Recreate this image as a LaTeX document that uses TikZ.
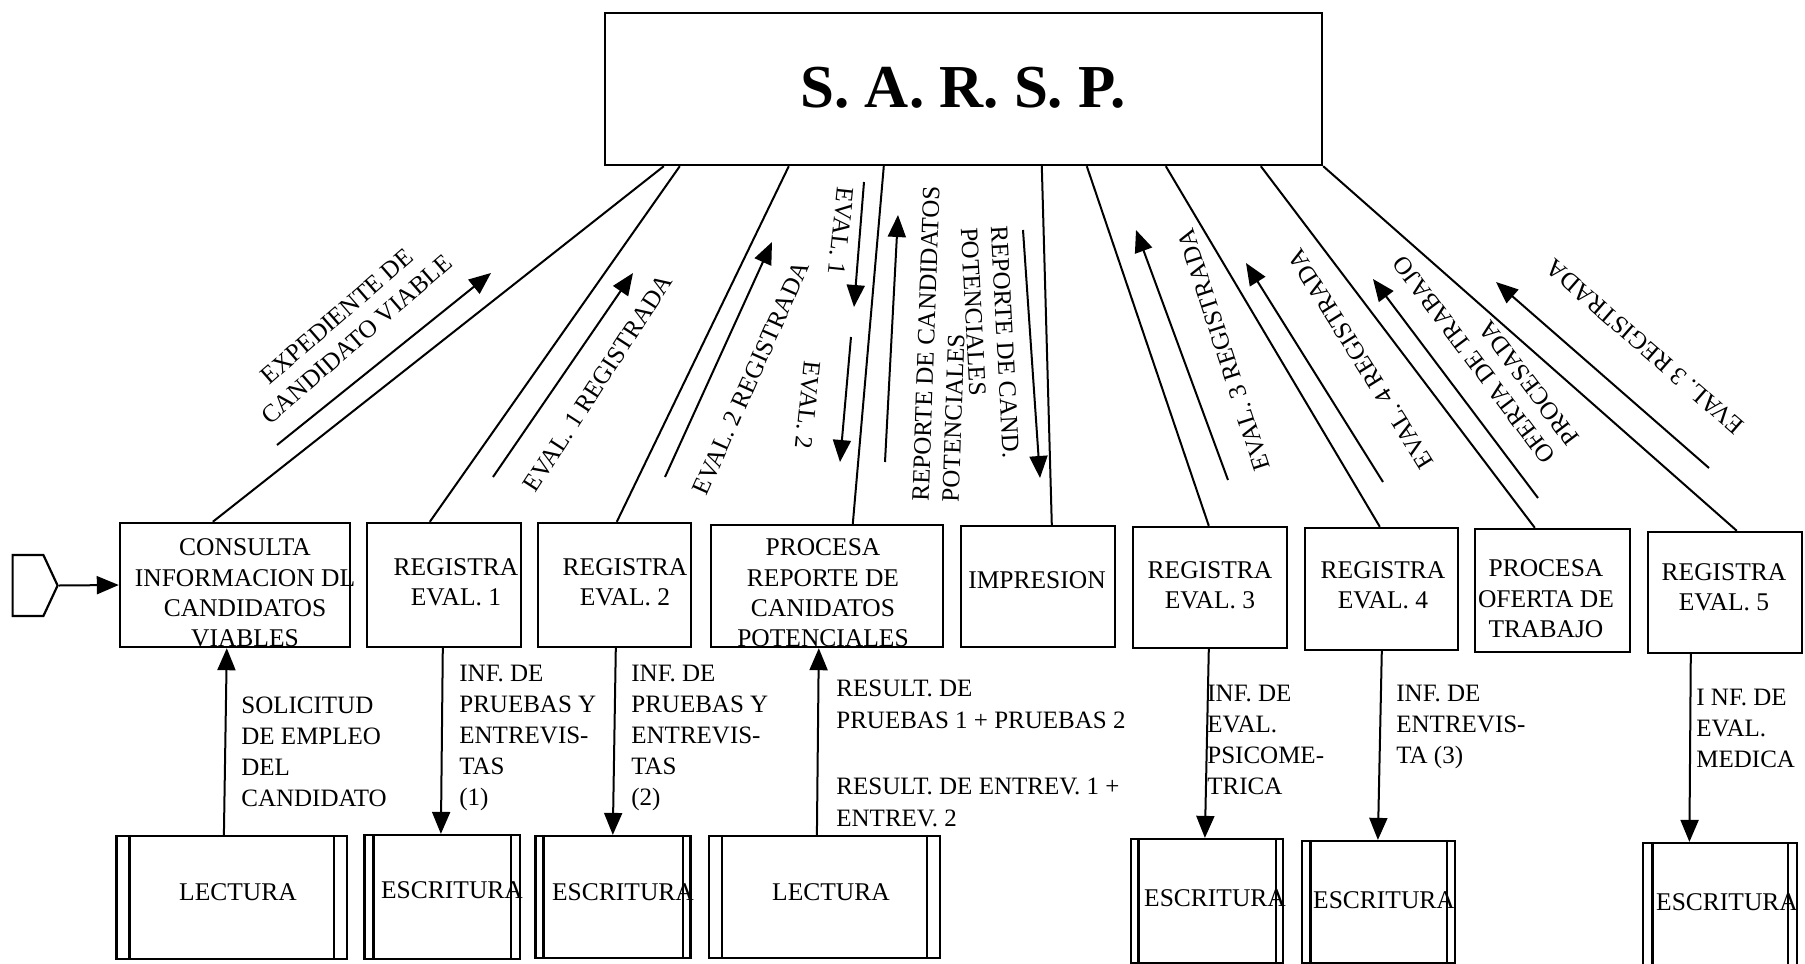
\documentclass[tikz,border=0pt]{standalone}
\usepackage{fontspec}
\setmainfont{Liberation Serif}
\usetikzlibrary{arrows.meta,calc,shapes.symbols}
\tikzset{
  every node/.style={inner sep=0pt},
  wh/.style 2 args={minimum width=#1*0.5pt,minimum height=#2*0.5pt},
  procbox/.style={draw,line width=1.2pt,rectangle},
  storebox/.style={draw,line width=1.1pt,rectangle},
  storeline/.style={line width=1.1pt},
  link/.style={line width=1pt},
  arr/.style={line width=1pt,-{Triangle[length=11pt,width=9pt]}},
  boxtxt/.style={font=\fontsize{12.75}{15.2}\selectfont,align=center},
  lbl/.style={font=\fontsize{12.5}{15}\selectfont,align=center},
  note/.style={font=\fontsize{12.5}{15.5}\selectfont,align=left,anchor=north west}
}
\begin{document}
\begin{tikzpicture}[x=0.5pt,y=-0.5pt]
\path[use as bounding box,fill=white] (0,0) rectangle (1805,964);

% system box
\node[procbox,wh={717}{152}] (main) at (963.5,89) {};
\node[font=\fontsize{30.5}{36}\selectfont\bfseries] (title) at (963,88) {S. A. R. S. P.};

% process row
\node[procbox,wh={230}{124}] (c1) at (235,585) {};
\node[procbox,wh={154}{124}] (r1) at (444,585) {};
\node[procbox,wh={153}{124}] (r2) at (614.5,585) {};
\node[procbox,wh={232}{122}] (p1) at (827,586) {};
\node[procbox,wh={154}{121}] (imp) at (1038,586.5) {};
\node[procbox,wh={154}{121}] (r3) at (1210,587.5) {};
\node[procbox,wh={153}{122}] (r4) at (1381.5,589) {};
\node[procbox,wh={155}{123}] (p2) at (1552.5,590.5) {};
\node[procbox,wh={154}{121}] (r5) at (1725,592.5) {};

\node[boxtxt] (c1t) at (245,593) {CONSULTA\\INFORMACION DL\\CANDIDATOS\\VIABLES};
\node[boxtxt] (r1t) at (456,582) {REGISTRA\\EVAL. 1};
\node[boxtxt] (r2t) at (625,582) {REGISTRA\\EVAL. 2};
\node[boxtxt] (p1t) at (823,593) {PROCESA\\REPORTE DE\\CANIDATOS\\POTENCIALES};
\node[boxtxt] (impt) at (1037,580) {IMPRESION};
\node[boxtxt] (r3t) at (1210,585) {REGISTRA\\EVAL. 3};
\node[boxtxt] (r4t) at (1383,585) {REGISTRA\\EVAL. 4};
\node[boxtxt] (p2t) at (1546,599) {PROCESA\\OFERTA DE\\TRABAJO};
\node[boxtxt] (r5t) at (1724,587) {REGISTRA\\EVAL. 5};

% file row
\node[storebox,wh={230.5}{123}] (L1) at (231.75,897.5) {};
\node[storebox,wh={155.5}{124}] (E1) at (442.25,897) {};
\node[storebox,wh={155}{122}] (E2) at (613,897) {};
\node[storebox,wh={231}{122}] (L2) at (824.5,897) {};
\node[storebox,wh={152}{124}] (E3) at (1207,901) {};
\node[storebox,wh={153}{122}] (E4) at (1378.5,902) {};
\node[storebox,wh={154}{132}] (E5) at (1720,909) {};
% inner side bars of the file symbols
\foreach \f/\d in {L1/14,E1/10,E2/9,L2/14,E3/8.5,E4/9.5,E5/10.5} {
  \draw[storeline] ($(\f.north west)+(\d,0)$) -- ($(\f.south west)+(\d,0)$);
  \draw[storeline] ($(\f.north east)+(-\d,0)$) -- ($(\f.south east)+(-\d,0)$);
}

\node[boxtxt] (L1t) at (238,892) {LECTURA};
\node[boxtxt] (E1t) at (452,890) {ESCRITURA};
\node[boxtxt] (E2t) at (623,892) {ESCRITURA};
\node[boxtxt] (L2t) at (831,892) {LECTURA};
\node[boxtxt] (E3t) at (1215,898) {ESCRITURA};
\node[boxtxt] (E4t) at (1384,900) {ESCRITURA};
\node[boxtxt] (E5t) at (1727,902) {ESCRITURA};

% entry connector
\node[draw,line width=1.1pt,signal,signal to=east,signal pointer angle=130,wh={45}{61}] (pent) at (28,585.5) {};
\draw[arr] (pent.east) -- (c1.west);

% links between the system and the processes
\draw[link] ($(main.south west)+(60,0)$) -- ($(c1.north west)+(94,0)$);
\draw[link] ($(main.south west)+(76,0)$) -- ($(r1.north west)+(64,0)$);
\draw[link] ($(main.south west)+(185,0)$) -- ($(r2.north west)+(80,0)$);
\draw[link] ($(main.south west)+(280,0)$) -- ($(p1.north west)+(143,0)$);
\draw[link] ($(main.south west)+(438,0)$) -- ($(imp.north west)+(92,0)$);
\draw[link] ($(main.south west)+(483,0)$) -- ($(r3.north west)+(77,0)$);
\draw[link] ($(main.south west)+(562,0)$) -- ($(r4.north west)+(76,0)$);
\draw[link] ($(main.south west)+(657,0)$) -- ($(p2.north west)+(61,0)$);
\draw[link] (main.south east) -- ($(r5.north west)+(90,0)$);

% flows between processes and files
\draw[arr] ($(L1.north west)+(108.5,0)$) -- ($(c1.south west)+(108,0)$);
\draw[arr] ($(r1.south west)+(77,0)$) -- ($(E1.north west)+(77.5,0)$);
\draw[arr] ($(r2.south west)+(79,0)$) -- ($(E2.north west)+(78.4,0)$);
\draw[arr] ($(L2.north west)+(109,0)$) -- ($(p1.south west)+(109,0)$);
\draw[arr] ($(r3.south west)+(77,0)$) -- ($(E3.north west)+(75,0)$);
\draw[arr] ($(r4.south west)+(78,0)$) -- ($(E4.north west)+(77,0)$);
\draw[arr] ($(r5.south west)+(44,0)$) -- ($(E5.north west)+(47.5,0)$);

% data flow arrows along the links
\coordinate (a1s) at (277,445);  \coordinate (a1e) at (491,273);
\coordinate (a2s) at (493,477);  \coordinate (a2e) at (633,273);
\coordinate (a3s) at (665,477);  \coordinate (a3e) at (772,242);
\coordinate (a4s) at (864,182);  \coordinate (a4e) at (854,307);
\coordinate (a5s) at (851,337);  \coordinate (a5e) at (840,462);
\coordinate (a6s) at (885,462);  \coordinate (a6e) at (898,215);
\coordinate (a7s) at (1023,230); \coordinate (a7e) at (1040,478);
\coordinate (a8s) at (1228,480); \coordinate (a8e) at (1136,230);
\coordinate (a9s) at (1383,482); \coordinate (a9e) at (1246,263);
\coordinate (a10s) at (1538,498); \coordinate (a10e) at (1373,279);
\coordinate (a11s) at (1709,468); \coordinate (a11e) at (1496,282);
\foreach \i in {1,...,11} {\draw[arr] (a\i s) -- (a\i e);}

% flow labels
\node[lbl,rotate=41] (t1) at (347,328) {EXPEDIENTE DE\\CANDIDATO VIABLE};
\node[lbl,rotate=57] (t2) at (598,383) {EVAL. 1 REGISTRADA};
\node[lbl,rotate=66] (t3) at (751,378) {EVAL. 2 REGISTRADA};
\node[lbl,rotate=-96] (t4) at (841,231) {EVAL. 1};
\node[lbl,rotate=-96] (t5) at (808,405) {EVAL. 2};
\node[lbl,rotate=88,align=left] (t6) at (941,344) {REPORTE DE CANDIDATOS\\POTENCIALES};
\node[lbl,rotate=-87,align=left] (t7) at (990,343) {REPORTE DE CAND.\\POTENCIALES};
\node[lbl,rotate=108] (t8) at (1224,350) {EVAL. 3 REGISTRADA};
\node[lbl,rotate=122] (t9) at (1361,359) {EVAL. 4 REGISTRADA};
\node[lbl,rotate=127,align=left] (t10) at (1486,351) {OFERTA DE TRABAJO\\PROCESADA};
\node[lbl,rotate=139] (t11) at (1645,347) {EVAL. 3 REGISTRADA};

% flow notes below the processes
\node[note] (n1) at (241,696.5) {SOLICITUD\\DE EMPLEO\\DEL\\CANDIDATO};
\node[note] (n2) at (459,664.5) {INF. DE\\PRUEBAS Y\\ENTREVIS-\\TAS\\(1)};
\node[note] (n3) at (631,664.5) {INF. DE\\PRUEBAS Y\\ENTREVIS-\\TAS\\(2)};
\node[note,font=\fontsize{12.5}{16}\selectfont] (n4) at (836,679.5) {RESULT. DE\\PRUEBAS 1 + PRUEBAS 2\\[17pt]RESULT. DE ENTREV. 1 +\\ENTREV. 2};
\node[note] (n5) at (1207,684.5) {INF. DE\\EVAL.\\PSICOME-\\TRICA};
\node[note] (n6) at (1396,684.5) {INF. DE\\ENTREVIS-\\TA (3)};
\node[note] (n7) at (1696,688.5) {I NF. DE\\EVAL.\\MEDICA};
\end{tikzpicture}
\end{document}
